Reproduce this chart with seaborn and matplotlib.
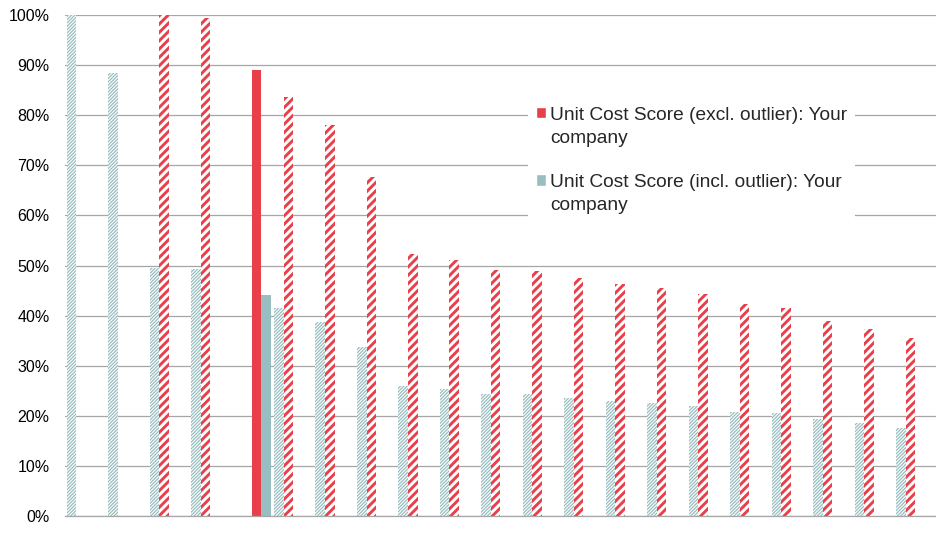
import numpy as np
import pandas as pd
import matplotlib
matplotlib.use("Agg")
import matplotlib.pyplot as plt
import seaborn as sns
from matplotlib.patches import Patch, Rectangle
from matplotlib.legend_handler import HandlerPatch
from matplotlib.ticker import PercentFormatter

RED = '#E8404A'
TEAL = '#98BEC1'
GRID = '#A6A6A6'

# one entry per company, sorted as in the benchmark
companies = [f'C{i:02d}' for i in range(1, 22)]
incl_outlier = [100.0, 88.5, 49.6, 49.4, 0.0, 41.5, 38.7, 33.7, 25.9, 25.3, 24.3,
                24.3, 23.6, 23.0, 22.5, 22.0, 20.8, 20.5, 19.3, 18.5, 17.6]
excl_outlier = [0.0, 0.0, 100.0, 99.5, 0.0, 83.7, 78.0, 67.7, 52.3, 51.1, 49.1,
                49.0, 47.6, 46.4, 45.6, 44.4, 42.3, 41.5, 39.0, 37.4, 35.6]
your_excl = [0.0, 0.0, 0.0, 0.0, 89.1, 0.0, 0.0, 0.0, 0.0, 0.0, 0.0,
             0.0, 0.0, 0.0, 0.0, 0.0, 0.0, 0.0, 0.0, 0.0, 0.0]
your_incl = [0.0, 0.0, 0.0, 0.0, 44.1, 0.0, 0.0, 0.0, 0.0, 0.0, 0.0,
             0.0, 0.0, 0.0, 0.0, 0.0, 0.0, 0.0, 0.0, 0.0, 0.0]

series_names = ['Unit Cost Score (incl. outlier)',
                'Unit Cost Score (excl. outlier)',
                'Unit Cost Score (excl. outlier): Your company',
                'Unit Cost Score (incl. outlier): Your company']
series_values = [incl_outlier, excl_outlier, your_excl, your_incl]

df = pd.concat([pd.DataFrame({'company': companies, 'series': name, 'score': vals})
                for name, vals in zip(series_names, series_values)],
               ignore_index=True)

sns.set_style('white')
plt.rcParams['font.family'] = ['Liberation Sans', 'DejaVu Sans']
plt.rcParams['hatch.linewidth'] = 1.0

fig = plt.figure(figsize=(9.36, 5.33), dpi=100)
ax = fig.add_axes([65 / 936, 17 / 533, 871 / 936, 501 / 533])

palette = dict(zip(series_names, [TEAL, RED, RED, TEAL]))
sns.barplot(data=df, x='company', y='score', hue='series', hue_order=series_names,
            palette=palette, saturation=1, width=0.923, gap=0, dodge=True,
            legend=False, ax=ax)

# hatched peers, solid bars for your company
styles = [(TEAL, '//////////', 0.9), (RED, '////', 2.1), (RED, None, 0), (TEAL, None, 0)]
for container, (col, hatch, hlw) in zip(ax.containers, styles):
    for bar in container:
        bar.set_linewidth(0)
        if hatch:
            bar.set_facecolor('white')
            bar.set_edgecolor(col)
            bar.set_hatch(hatch)
            if hasattr(bar, 'set_hatch_linewidth'):
                bar.set_hatch_linewidth(hlw)
        else:
            bar.set_facecolor(col)
            bar.set_edgecolor(col)

ax.set_ylim(0, 100)
ax.set_yticks(np.arange(0, 101, 10))
ax.yaxis.set_major_formatter(PercentFormatter(100, decimals=0))
ax.set_xlim(-0.5, 20.21)
ax.set_xticks(np.arange(-0.5, 21, 1))
ax.set_xticklabels([])
ax.set_xlabel('')
ax.set_ylabel('')

ax.set_axisbelow(True)
ax.yaxis.grid(True, color=GRID, linewidth=0.9)
ax.xaxis.grid(False)
for side in ['left', 'right', 'top']:
    ax.spines[side].set_visible(False)
ax.spines['bottom'].set_color(GRID)
ax.spines['bottom'].set_linewidth(0.9)
ax.tick_params(axis='x', length=3, width=0.9, color=GRID, direction='out')
ax.tick_params(axis='y', length=0, pad=11, labelsize=11.5, labelcolor='black')


def top_square(legend, orig_handle, xdescent, ydescent, width, height, fontsize):
    return Rectangle((-xdescent, -ydescent + 0.73 * fontsize), width, height)


handles = [Patch(facecolor=RED), Patch(facecolor=TEAL)]
labels = ['Unit Cost Score (excl. outlier): Your\ncompany',
          'Unit Cost Score (incl. outlier): Your\ncompany']
leg = ax.legend(handles, labels, loc='upper left', bbox_to_anchor=(528 / 936, 1 - 99 / 533),
                bbox_transform=fig.transFigure, fontsize=13.8, frameon=True,
                facecolor='white', edgecolor='none', framealpha=1, fancybox=False,
                handlelength=0.55, handleheight=0.55, handletextpad=0.22,
                labelspacing=1.4, borderpad=0.4, borderaxespad=0,
                handler_map={Patch: HandlerPatch(patch_func=top_square)})
for t in leg.get_texts():
    t.set_linespacing(1.5)

fig.savefig('out.png', dpi=100)
